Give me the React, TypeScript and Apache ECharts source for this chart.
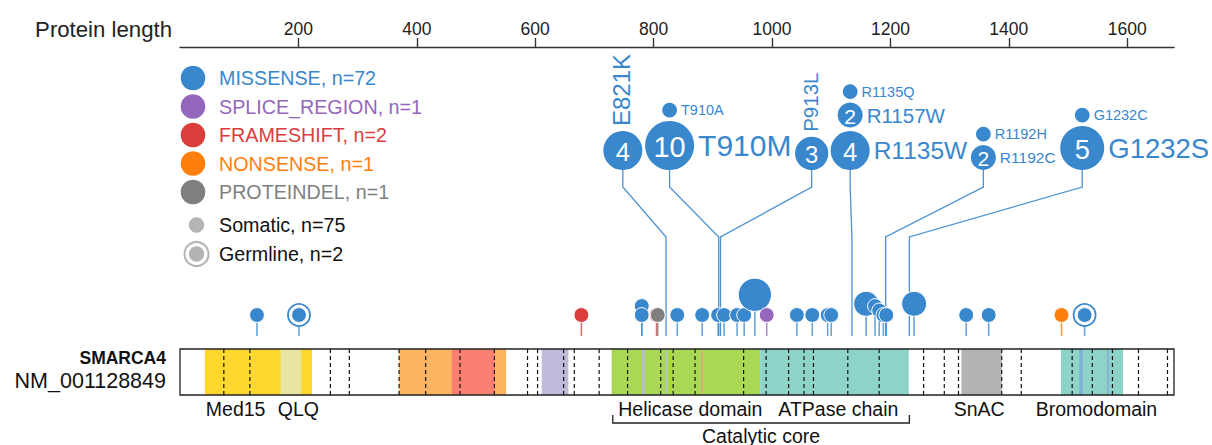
import React, { useEffect, useRef } from 'react';
import * as echarts from 'echarts';

const FONT = "'Liberation Sans', Arial, Helvetica, sans-serif";

// ---------------- data ----------------
const proteinLength = 1679;
const geneName = 'SMARCA4';
const transcriptName = 'NM_001128849';
const axisTitle = 'Protein length';

const mutationClasses = ['MISSENSE', 'SPLICE_REGION', 'FRAMESHIFT', 'NONSENSE', 'PROTEINDEL'];
const mutationClassCounts = [72, 1, 2, 1, 1];
const originNames = ['Somatic', 'Germline'];
const originCounts = [75, 2];

// protein domains (aa)
const domainKinds = ['Med15', 'QLQ', 'HSAext', 'HSA', 'BRK', 'Helicase', 'ATPase', 'SnAC', 'Bromo', 'Motif', 'MotifB', 'MotifC', 'BromoMotif', 'BromoMotif'];
const domainStart = [42, 170, 370, 459, 611, 729, 980, 1320, 1488, 780, 821, 881, 1519, 1566];
const domainEnd = [223, 205, 551, 532, 656, 980, 1231, 1388, 1593, 785, 823, 883, 1525, 1569];

// exon boundaries (aa)
const exonBoundaries = [74, 118, 254, 286, 370, 415, 473, 531, 587, 604, 648, 666, 708, 756, 812, 833, 870, 952, 990, 1028, 1054, 1070, 1128, 1181, 1256, 1291, 1315, 1388, 1421, 1507, 1541, 1575, 1619, 1668];

const domainLabels = ['Med15', 'QLQ', 'Helicase domain', 'ATPase chain', 'SnAC', 'Bromodomain'];
const domainLabelAt = [94, 200, 862, 1112, 1350, 1548];
const groupLabel = 'Catalytic core';
const groupStart = [731];
const groupEnd = [1232];

// collapsed lollipops on the protein track
const discPos = [130, 201, 678, 780, 780, 805, 807, 840, 882, 909, 919, 941, 953, 971, 991, 1042, 1068, 1094, 1100, 1159, 1174, 1181, 1188, 1193, 1240, 1328, 1366, 1489, 1528];
const discClass = [0, 0, 2, 0, 0, 2, 4, 0, 0, 0, 0, 0, 0, 0, 1, 0, 0, 0, 0, 0, 0, 0, 0, 0, 0, 0, 0, 3, 0];
const discCount = [1, 1, 1, 1, 1, 1, 1, 1, 1, 1, 1, 1, 1, 3, 1, 1, 1, 1, 1, 2, 1, 1, 1, 1, 2, 1, 1, 1, 1];
const discStack = [0, 0, 0, 2, 0, 0, 0, 0, 0, 0, 0, 0, 0, 0, 0, 0, 0, 0, 0, 0, 2, 1, 0, 0, 0, 0, 0, 0, 0];
const discGermline = [0, 1, 0, 0, 0, 0, 0, 0, 0, 0, 0, 0, 0, 0, 0, 0, 0, 0, 0, 0, 0, 0, 0, 0, 0, 0, 0, 0, 1];

// expanded (labelled) hotspots
const calloutPos = [821, 910, 913, 1135, 1192, 1232];
const calloutAt = [748, 827, 1067, 1132, 1357, 1524];
const calloutMut = ['E821K', 'T910M', 'T910A', 'P913L', 'R1135W', 'R1157W', 'R1135Q', 'R1192C', 'R1192H', 'G1232S', 'G1232C'];
const calloutMutCount = [4, 10, 1, 3, 4, 2, 1, 2, 1, 5, 1];
const calloutMutGroup = [0, 1, 1, 2, 3, 3, 3, 4, 4, 5, 5];

// ---------------- styles ----------------
const classColors = ['#3987cc', '#9467bd', '#db3d3d', '#ff7f0e', '#7f7f7f'];
const BLUE = classColors[0];
const domainColors: Record<string, string> = {
  Med15: '#fed82f', QLQ: '#e6e6a2', HSAext: '#fdb462', HSA: '#fb8072', BRK: '#bebada',
  Helicase: '#a8d854', ATPase: '#8dd3c7', SnAC: '#b3b3b3', Bromo: '#8dd3c7',
  Motif: '#bebada', MotifB: '#c3c3d6', MotifC: '#e89a8a', BromoMotif: '#80b1d3',
};
const calloutFont = [24, 30, 14.5, 20.5, 24.5, 20.5, 14.5, 15.5, 14.5, 27.5, 14.5];
const radiusByCount: Record<number, number> = { 1: 7.4, 2: 12.5, 3: 16.6, 4: 19.5, 5: 22, 10: 24.5 };
const rad = (c: number) => radiusByCount[c] || 7.4;

const BAR_TOP = 349;
const BAR_H = 46;
const STEM_BASE = 336;
const CALL_BOTTOM = 170;
const LEGEND_FONT = 19.7;
const LABEL_FONT = 19.5;

export default function App() {
  const ref = useRef<HTMLDivElement>(null);
  useEffect(() => {
    if (!ref.current) return;
    const chart = echarts.init(ref.current, undefined, { renderer: 'svg' });

    const graphic: any[] = [];
    graphic.push({
      type: 'text', x: 172, y: 29,
      style: { text: axisTitle, fill: '#222', fontSize: 22.2, fontFamily: FONT, align: 'right', verticalAlign: 'middle' },
    });
    mutationClasses.forEach((c, i) => {
      const cy = 78 + i * 28.5;
      graphic.push({ type: 'circle', shape: { cx: 193, cy, r: 12.3 }, style: { fill: classColors[i] } });
      graphic.push({
        type: 'text', x: 219, y: cy,
        style: { text: `${c}, n=${mutationClassCounts[i]}`, fill: classColors[i], fontSize: LEGEND_FONT, fontFamily: FONT, verticalAlign: 'middle' },
      });
    });
    const oy = [225, 254];
    graphic.push({ type: 'circle', shape: { cx: 196.5, cy: oy[0], r: 7.7 }, style: { fill: '#b4b4b4' } });
    graphic.push({ type: 'circle', shape: { cx: 196.5, cy: oy[1], r: 12 }, style: { fill: 'none', stroke: '#b4b4b4', lineWidth: 2 } });
    graphic.push({ type: 'circle', shape: { cx: 196.5, cy: oy[1], r: 7.7 }, style: { fill: '#b4b4b4' } });
    originNames.forEach((n, i) => {
      graphic.push({
        type: 'text', x: 219, y: oy[i],
        style: { text: `${n}, n=${originCounts[i]}`, fill: '#111', fontSize: LEGEND_FONT, fontFamily: FONT, verticalAlign: 'middle' },
      });
    });
    graphic.push({
      type: 'text', x: 166, y: 358,
      style: { text: geneName, fill: '#111', fontSize: 17.5, fontWeight: 'bold', fontFamily: FONT, align: 'right', verticalAlign: 'middle' },
    });
    graphic.push({
      type: 'text', x: 166, y: 381,
      style: { text: transcriptName, fill: '#111', fontSize: 21.5, fontFamily: FONT, align: 'right', verticalAlign: 'middle' },
    });

    const X = (api: any, v: number) => api.coord([v, 0])[0];

    const option: any = {
      animation: false,
      grid: { left: 180, right: 38, top: 47, bottom: 0 },
      xAxis: {
        type: 'value', position: 'top', min: 0, max: proteinLength, interval: 200,
        splitLine: { show: false },
        axisLine: { onZero: false, lineStyle: { color: '#333', width: 1.4 } },
        axisTick: { length: 9, lineStyle: { color: '#333', width: 1.4 } },
        axisLabel: {
          fontSize: 17.5, color: '#222', margin: 9, fontFamily: FONT,
          showMinLabel: false, showMaxLabel: false,
          formatter: (v: number) => (v > 0 && v % 200 === 0 ? String(v) : ''),
        },
      },
      yAxis: { type: 'value', min: 0, max: 1, show: false },
      graphic,
      series: [
        {
          type: 'custom', silent: true, clip: false,
          data: domainStart.map((s, i) => [s, domainEnd[i], 0]),
          encode: { x: [0, 1], y: 2 },
          renderItem: (params: any, api: any) => {
            const x0 = X(api, api.value(0));
            const x1 = X(api, api.value(1));
            return {
              type: 'rect',
              shape: { x: x0, y: BAR_TOP, width: Math.max(1, x1 - x0), height: BAR_H },
              style: { fill: domainColors[domainKinds[params.dataIndex]] },
            };
          },
        },
        {
          type: 'custom', silent: true, clip: false,
          data: exonBoundaries.map((p) => [p, 0]),
          encode: { x: 0, y: 1 },
          renderItem: (params: any, api: any) => {
            const x = X(api, api.value(0));
            return {
              type: 'line',
              shape: { x1: x, y1: BAR_TOP, x2: x, y2: BAR_TOP + BAR_H },
              style: { stroke: '#111', lineWidth: 1.2, lineDash: [4, 3] },
            };
          },
        },
        {
          type: 'custom', silent: true, clip: false,
          data: [[0, proteinLength, 0]],
          encode: { x: [0, 1], y: 2 },
          renderItem: (params: any, api: any) => {
            const x0 = X(api, api.value(0));
            const x1 = X(api, api.value(1));
            return {
              type: 'rect',
              shape: { x: x0, y: BAR_TOP, width: x1 - x0, height: BAR_H },
              style: { fill: 'none', stroke: '#222', lineWidth: 1.3 },
            };
          },
        },
        {
          type: 'custom', silent: true, clip: false,
          data: domainLabelAt.map((p) => [p, 0]),
          encode: { x: 0, y: 1 },
          renderItem: (params: any, api: any) => ({
            type: 'text', x: X(api, api.value(0)), y: 409,
            style: { text: domainLabels[params.dataIndex], fill: '#111', fontSize: LABEL_FONT, fontFamily: FONT, align: 'center', verticalAlign: 'middle' },
          }),
        },
        {
          type: 'custom', silent: true, clip: false,
          data: groupStart.map((s, i) => [s, groupEnd[i], 0]),
          encode: { x: [0, 1], y: 2 },
          renderItem: (params: any, api: any) => {
            const x0 = X(api, api.value(0));
            const x1 = X(api, api.value(1));
            return {
              type: 'group',
              children: [
                { type: 'polyline', shape: { points: [[x0, 415], [x0, 423], [x1, 423], [x1, 415]] }, style: { stroke: '#222', lineWidth: 1.3, fill: 'none' } },
                { type: 'text', x: (x0 + x1) / 2, y: 435.5, style: { text: groupLabel, fill: '#111', fontSize: LABEL_FONT, fontFamily: FONT, align: 'center', verticalAlign: 'middle' } },
              ],
            };
          },
        },
        // stems
        {
          type: 'custom', silent: true, clip: false,
          data: discPos.map((p) => [p, 0]),
          encode: { x: 0, y: 1 },
          renderItem: (params: any, api: any) => {
            const i = params.dataIndex;
            const x = X(api, api.value(0));
            const r = rad(discCount[i]);
            const cy = 331.3 - 2.2 * r - discStack[i] * 4.5;
            return {
              type: 'line',
              shape: { x1: x, y1: STEM_BASE, x2: x, y2: cy + r - 1 },
              style: { stroke: classColors[discClass[i]], lineWidth: 1.6, opacity: 0.75 },
            };
          },
        },
        // callout lines + discs
        {
          type: 'custom', silent: true, clip: false,
          data: calloutPos.map((p, i) => [p, calloutAt[i], 0]),
          encode: { x: [0, 1], y: 2 },
          renderItem: (params: any, api: any) => {
            const g = params.dataIndex;
            const px = X(api, api.value(0));
            const cx = X(api, api.value(1));
            const children: any[] = [
              {
                type: 'polyline',
                shape: { points: [[cx, CALL_BOTTOM], [cx, 187], [px, 237], [px, STEM_BASE]] },
                style: { stroke: BLUE, lineWidth: 1.3, fill: 'none', opacity: 0.9 },
              },
            ];
            const members = calloutMut.map((_, i) => i).filter((i) => calloutMutGroup[i] === g);
            let bottom = CALL_BOTTOM;
            members.forEach((mi) => {
              const cnt = calloutMutCount[mi];
              const r = rad(cnt);
              const cy = bottom - r;
              children.push({ type: 'circle', shape: { cx, cy, r }, style: { fill: BLUE } });
              if (cnt > 1) {
                children.push({
                  type: 'text', x: cx, y: cy + 1,
                  style: { text: String(cnt), fill: '#fff', fontSize: 13 + 0.65 * r, fontFamily: FONT, align: 'center', verticalAlign: 'middle' },
                });
              }
              if (members.length === 1) {
                children.push({
                  type: 'text', x: cx - 1, y: cy - r - 5, rotation: Math.PI / 2,
                  style: { text: calloutMut[mi], fill: BLUE, fontSize: calloutFont[mi], fontFamily: FONT, align: 'left', verticalAlign: 'middle' },
                });
              } else {
                children.push({
                  type: 'text', x: cx + r + 4, y: cy,
                  style: { text: calloutMut[mi], fill: BLUE, fontSize: calloutFont[mi], fontFamily: FONT, align: 'left', verticalAlign: 'middle' },
                });
              }
              bottom = cy - r - 3.5;
            });
            return { type: 'group', children };
          },
        },
        // discs
        {
          type: 'custom', silent: true, clip: false,
          data: discPos.map((p) => [p, 0]),
          encode: { x: 0, y: 1 },
          renderItem: (params: any, api: any) => {
            const i = params.dataIndex;
            const x = X(api, api.value(0));
            const r = rad(discCount[i]);
            const cy = 331.3 - 2.2 * r - discStack[i] * 4.5;
            const col = classColors[discClass[i]];
            const children: any[] = [];
            if (discGermline[i]) {
              children.push({ type: 'circle', shape: { cx: x, cy, r: r + 3.6 }, style: { fill: '#fff', stroke: col, lineWidth: 1.8 } });
            }
            children.push({ type: 'circle', shape: { cx: x, cy, r }, style: { fill: col, stroke: '#fff', lineWidth: 1 } });
            return { type: 'group', children };
          },
        },
      ],
    };
    chart.setOption(option);
    return () => chart.dispose();
  }, []);
  return <div ref={ref} style={{ position: 'fixed', left: 0, top: 0, width: 1212, height: 445, background: '#fff' }} />;
}
